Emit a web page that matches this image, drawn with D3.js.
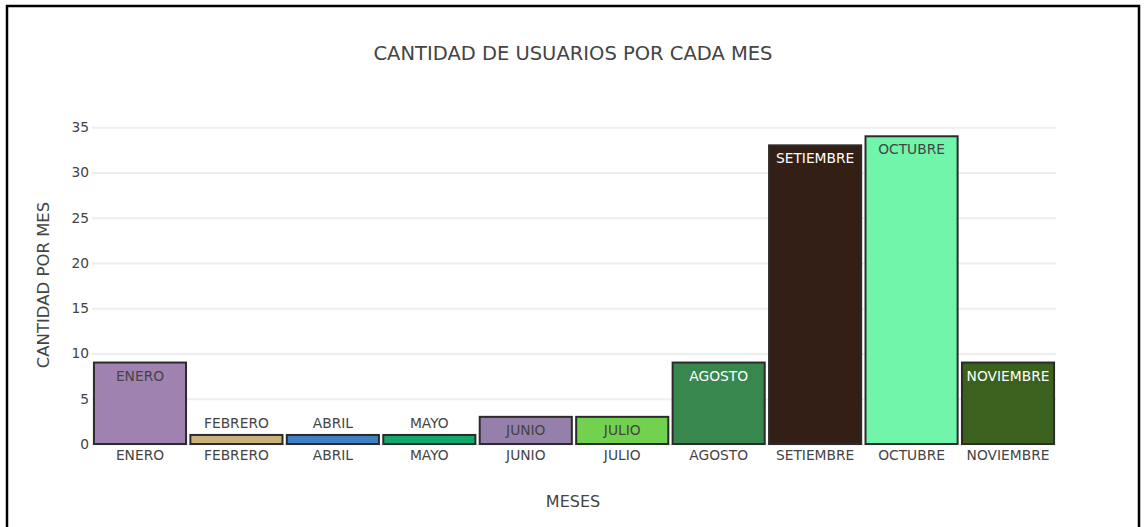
<!DOCTYPE html>
<html>
<head>
<meta charset="utf-8">
<script src="https://cdn.jsdelivr.net/npm/d3@7"></script>
<style>
  html, body { margin: 0; padding: 0; background: #fff; }
  svg { display: block; }
  text { font-family: "DejaVu Sans", Verdana, sans-serif; }
</style>
</head>
<body>
<svg id="chart" width="1144" height="527"></svg>
<script>
// Users per month
const months = ["ENERO", "FEBRERO", "ABRIL", "MAYO", "JUNIO", "JULIO", "AGOSTO", "SETIEMBRE", "OCTUBRE", "NOVIEMBRE"];
const users = [9, 1, 1, 1, 3, 3, 9, 33, 34, 9];
const barColors = ["#a082b0", "#c9b27a", "#3f82c4", "#11a86b", "#957fab", "#72d14f", "#37874f", "#331f15", "#71f5ab", "#3b611e"];
const yTicks = [0, 5, 10, 15, 20, 25, 30, 35];

const titleText = "CANTIDAD DE USUARIOS POR CADA MES";
const xTitle = "MESES";
const yTitle = "CANTIDAD POR MES";

const svg = d3.select("#chart");
const plot = { left: 92, right: 1056, top: 120, bottom: 444 };
const FONT = "'DejaVu Sans', Verdana, sans-serif";
const tickSize = 13.8;

// outer frame
svg.append("rect")
  .attr("x", 7).attr("y", 6).attr("width", 1132).attr("height", 540)
  .attr("fill", "#fff").attr("stroke", "#000").attr("stroke-width", 2.5);

const x = d3.scaleBand().domain(months)
  .range([plot.left, plot.right]).paddingInner(0.045).paddingOuter(0.02);
const y = d3.scaleLinear().domain([0, 35.8]).range([plot.bottom, plot.top]);

// grid lines
const grid = d3.axisLeft(y).tickValues(yTicks).tickSize(-(plot.right - plot.left)).tickFormat("");
svg.append("g").attr("transform", `translate(${plot.left},0)`).call(grid)
  .call(g => g.select(".domain").remove())
  .call(g => g.selectAll("line").attr("stroke", "#eee").attr("stroke-width", 2));

// y tick labels
const yAxis = d3.axisLeft(y).tickValues(yTicks).tickSize(0).tickPadding(3);
svg.append("g").attr("transform", `translate(${plot.left},0)`).call(yAxis)
  .call(g => g.select(".domain").remove())
  .call(g => g.selectAll("text").attr("fill", "#444").attr("font-size", tickSize)
    .style("font-family", FONT));

// x tick labels
const xAxis = d3.axisBottom(x).tickSize(0).tickPadding(6);
svg.append("g").attr("transform", `translate(0,${plot.bottom})`).call(xAxis)
  .call(g => g.select(".domain").remove())
  .call(g => g.selectAll("text").attr("fill", "#444").attr("font-size", tickSize)
    .style("font-family", FONT));

const data = months.map((m, i) => ({ m, v: users[i], c: barColors[i] }));

// bars
svg.append("g").selectAll("rect").data(data).join("rect")
  .attr("x", d => x(d.m))
  .attr("y", d => y(d.v))
  .attr("width", x.bandwidth())
  .attr("height", d => y(0) - y(d.v))
  .attr("fill", d => d.c)
  .attr("stroke", "#2b2b2b")
  .attr("stroke-width", 2);

// contrast text colour based on bar brightness
function isLight(c) {
  const r = d3.rgb(c);
  return (r.r * 299 + r.g * 587 + r.b * 114) / 1000 >= 128;
}

// bar labels: inside the top of the bar when it fits, otherwise above it
svg.append("g").selectAll("text").data(data).join("text")
  .attr("x", d => x(d.m) + x.bandwidth() / 2)
  .attr("y", d => {
    const h = y(0) - y(d.v);
    return h > 20 ? y(d.v) + 18 : y(d.v) - 7;
  })
  .attr("text-anchor", "middle")
  .attr("font-size", tickSize)
  .attr("fill", d => {
    const h = y(0) - y(d.v);
    if (h <= 20) return "#444";
    return isLight(d.c) ? "#444" : "#fff";
  })
  .text(d => d.m);

// title
svg.append("text")
  .attr("x", 573).attr("y", 60)
  .attr("text-anchor", "middle")
  .attr("font-size", 19.5)
  .attr("fill", "#444")
  .text(titleText);

// axis titles
svg.append("text")
  .attr("x", 573).attr("y", 507)
  .attr("text-anchor", "middle")
  .attr("font-size", 16)
  .attr("fill", "#444")
  .text(xTitle);

svg.append("text")
  .attr("transform", `translate(49,${(plot.top + plot.bottom) / 2 + 3}) rotate(-90)`)
  .attr("text-anchor", "middle")
  .attr("font-size", 16.5)
  .attr("fill", "#444")
  .text(yTitle);
</script>
</body>
</html>
